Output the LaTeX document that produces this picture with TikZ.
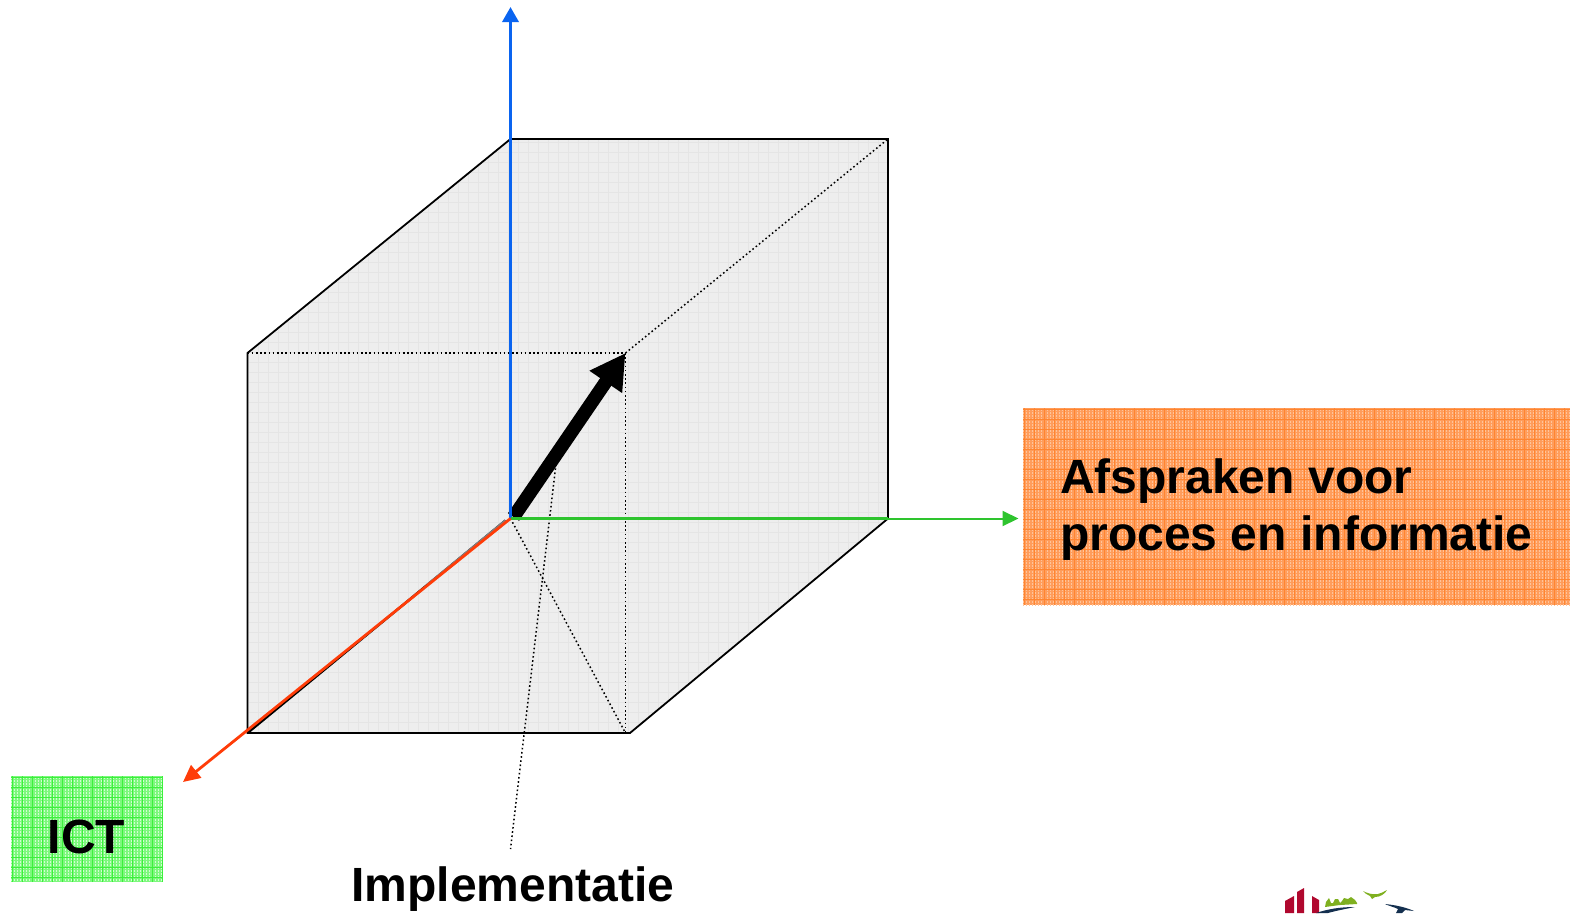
\documentclass[tikz,border=0pt]{standalone}
\usepackage{fontspec}
\setmainfont{Liberation Sans}
\usetikzlibrary{arrows.meta}
\definecolor{cubefill}{HTML}{EEEEEE}
\definecolor{cubegrid}{HTML}{E5E5E5}
\definecolor{axblue}{HTML}{0A64F0}
\definecolor{axgreen}{HTML}{2EC42E}
\definecolor{axred}{HTML}{FF3C08}
\definecolor{orfill}{HTML}{FF9D5C}
\definecolor{ordot}{HTML}{FFC49A}
\definecolor{orgrid}{HTML}{FF8530}
\definecolor{grfill}{HTML}{7DF87D}
\definecolor{grdot}{HTML}{D0FFD0}
\definecolor{grgrid}{HTML}{3CF03C}
\definecolor{logored}{HTML}{B0082E}
\definecolor{logogreen}{HTML}{7FB020}
\definecolor{logonavy}{HTML}{14304F}
\tikzset{
  edge/.style={draw=black,line width=1.8bp},
  dots/.style={draw=black,line width=1.5bp,dash pattern=on 1.6bp off 2.6bp},
  axis/.style={line width=3.4bp,-{Triangle[length=15bp,width=16bp]}},
  label/.style={font=\fontsize{48.2}{57.4}\selectfont\bfseries,text=black,inner sep=0pt,align=left},
  box/.style={inner sep=0pt,outer sep=0pt}
}
\begin{document}
\begin{tikzpicture}[x=1bp,y=-1bp]
\useasboundingbox (0,0) rectangle (1570,913);
\clip (0,0) rectangle (1570,913);
% named corners
\coordinate (O) at (510.5,518.5);
\coordinate (A) at (247.5,353);
\coordinate (B) at (510.5,139);
\coordinate (C) at (888,139);
\coordinate (D) at (888,518.5);
\coordinate (E) at (630,733);
\coordinate (F) at (247.5,733);
\coordinate (P) at (625.5,353);
\coordinate (Q) at (625.5,733);
\coordinate (Z) at (510.5,7);
\coordinate (X) at (1018.5,518.5);
\coordinate (Y) at (183,782);
\coordinate (IT) at (510.5,849);
\coordinate (IB) at (556.5,460);
\coordinate (S) at (513.5,517);
\coordinate (G) at (505.5,520.5);
\coordinate (H) at (427,585);
% cube
\fill[cubefill] (A) -- (B) -- (C) -- (D) -- (E) -- (F) -- cycle;
\begin{scope}
\clip (A) -- (B) -- (C) -- (D) -- (E) -- (F) -- cycle;
\foreach \v in {248,258,...,888} \draw[cubegrid,line width=.8bp] (\v,139) -- (\v,733);
\foreach \v in {142,152,...,732} \draw[cubegrid,line width=.8bp] (247,\v) -- (888,\v);
\end{scope}
% dotted construction lines
\draw[dots] (A) -- (P);
\draw[dots] (P) -- (C);
\draw[dots] (P) -- (Q);
\draw[dots] (O) -- (Q);
\draw[dots] (IB) -- (IT);
% cube outline
\draw[edge,line join=miter] (F) -- (A) -- (B) -- (C) -- (D) -- (E) -- (F) -- cycle;
\draw[edge,line width=2.4bp] (F) -- (G);
\draw[line width=2.4bp,gray] (H) -- (G);
% thick arrow
\draw[black,line width=13.5bp,-{Triangle[length=35bp,width=37bp]}] (S) -- (P);
% axes
\draw[axis,axblue] (B) -- (Z);
\draw[line width=3.4bp,axblue] (B) -- (O);
\draw[axis,axgreen,line width=2bp,-{Triangle[length=16bp,width=15bp]}] (D) -- (X);
\draw[line width=3bp,axgreen] (O) -- (D);
\draw[line width=2.8bp,axred,-{Triangle[length=17bp,width=16bp]}] (O) -- (Y);
% boxes
\node[box,fill=orfill,minimum width=547bp,minimum height=197bp] (procbox) at (1296.5,506.5) {};
\begin{scope}
\clip (procbox.north west) rectangle (procbox.south east);
\foreach \v in {410,413,...,605} \draw[ordot,line width=1.4bp,dash pattern=on 1.4bp off 1.6bp] (1023,\v) -- (1570,\v);
\foreach \v in {1024,1034,...,1570} \draw[orgrid,line width=1bp] (\v,408) -- (\v,605);
\foreach \v in {409,419,...,605} \draw[orgrid,line width=1bp] (1023,\v) -- (1570,\v);
\end{scope}
\node[box,fill=grfill,minimum width=152bp,minimum height=106bp] (ictbox) at (87,829) {};
\begin{scope}
\clip (ictbox.north west) rectangle (ictbox.south east);
\foreach \v in {778,781,...,882} \draw[grdot,line width=1.4bp,dash pattern=on 1.4bp off 1.6bp] (11,\v) -- (163,\v);
\foreach \v in {12,22,...,163} \draw[grgrid,line width=1bp] (\v,776) -- (\v,882);
\foreach \v in {777,787,...,882} \draw[grgrid,line width=1bp] (11,\v) -- (163,\v);
\end{scope}
\node[label,anchor=west] (proctext) at (1060,509.5) {Afspraken voor\\proces en informatie};
\node[label] (ict) at (86.5,836.5) {ICT};
\node[label] (impl) at (513,889) {Implementatie};
% logo
\fill[logored] (1285,913) -- (1285,901) -- (1294,896) -- (1294,913) -- cycle;
\fill[logored] (1297,913) -- (1297,892) -- (1304,888) -- (1304,913) -- cycle;
\fill[logored] (1312,913) -- (1312,896) -- (1319,900) -- (1319,913) -- cycle;
\fill[logogreen] (1325,907) -- (1326,902) -- (1329,898) -- (1331,903) -- (1333,903) -- (1335,899) -- (1338,899) -- (1340,903) -- (1342,901) -- (1344,898) -- (1348,899) -- (1351,897) -- (1355,900) -- (1357,903) -- (1357,904) -- (1340,905) -- cycle;
\fill[logogreen] (1363,891) .. controls (1367,893) and (1372,895) .. (1378,894) .. controls (1381,893) and (1384,892) .. (1387,890) .. controls (1385,894) and (1380,897) .. (1375,897) -- (1372,899) -- (1370,896) .. controls (1367,895) and (1365,893) .. (1363,891) -- cycle;
\fill[logonavy] (1316,913) .. controls (1328,909) and (1340,907) .. (1355,907) .. controls (1345,909) and (1335,911) .. (1328,913) -- cycle;
\fill[logonavy] (1385,904) .. controls (1395,905) and (1405,907) .. (1414,911) -- (1405,910) -- (1402,913) -- (1396,913) -- (1398,909) .. controls (1394,907) and (1389,906) .. (1385,904) -- cycle;
\end{tikzpicture}
\end{document}
